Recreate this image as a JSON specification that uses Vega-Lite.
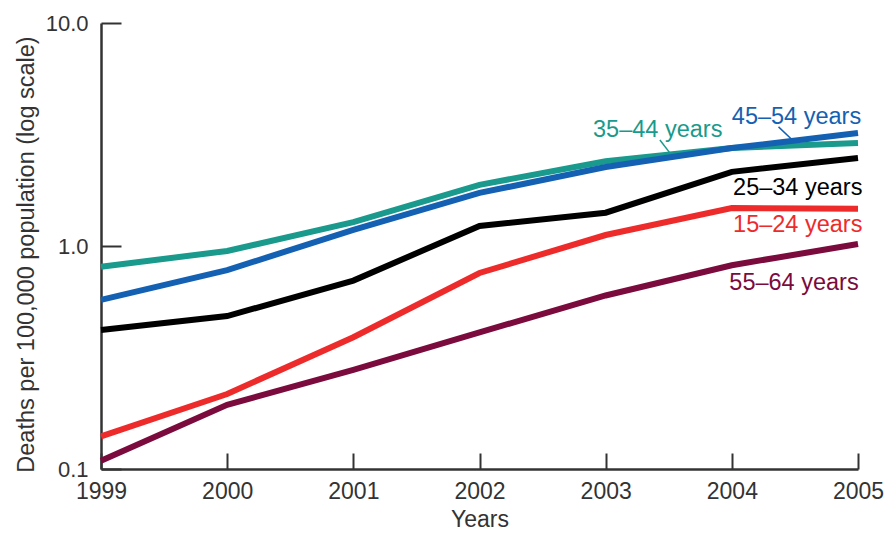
{
  "$schema": "https://vega.github.io/schema/vega-lite/v6.json",
  "width": 757,
  "height": 446,
  "autosize": {"type": "none"},
  "padding": {"left": 101, "top": 23, "right": 32, "bottom": 64},
  "background": "white",
  "config": {"view": {"stroke": null}, "font": "Liberation Sans"},
  "datasets": {
    "series": [
      {"age": "55–64 years", "year": 1999, "rate": 0.109},
      {"age": "55–64 years", "year": 2000, "rate": 0.194},
      {"age": "55–64 years", "year": 2001, "rate": 0.278},
      {"age": "55–64 years", "year": 2002, "rate": 0.41},
      {"age": "55–64 years", "year": 2003, "rate": 0.6},
      {"age": "55–64 years", "year": 2004, "rate": 0.82},
      {"age": "55–64 years", "year": 2005, "rate": 1.02},
      {"age": "15–24 years", "year": 1999, "rate": 0.14},
      {"age": "15–24 years", "year": 2000, "rate": 0.217},
      {"age": "15–24 years", "year": 2001, "rate": 0.39},
      {"age": "15–24 years", "year": 2002, "rate": 0.757},
      {"age": "15–24 years", "year": 2003, "rate": 1.12},
      {"age": "15–24 years", "year": 2004, "rate": 1.48},
      {"age": "15–24 years", "year": 2005, "rate": 1.47},
      {"age": "25–34 years", "year": 1999, "rate": 0.42},
      {"age": "25–34 years", "year": 2000, "rate": 0.485},
      {"age": "25–34 years", "year": 2001, "rate": 0.7},
      {"age": "25–34 years", "year": 2002, "rate": 1.23},
      {"age": "25–34 years", "year": 2003, "rate": 1.41},
      {"age": "25–34 years", "year": 2004, "rate": 2.15},
      {"age": "25–34 years", "year": 2005, "rate": 2.48},
      {"age": "35–44 years", "year": 1999, "rate": 0.807},
      {"age": "35–44 years", "year": 2000, "rate": 0.95},
      {"age": "35–44 years", "year": 2001, "rate": 1.28},
      {"age": "35–44 years", "year": 2002, "rate": 1.88},
      {"age": "35–44 years", "year": 2003, "rate": 2.4},
      {"age": "35–44 years", "year": 2004, "rate": 2.75},
      {"age": "35–44 years", "year": 2005, "rate": 2.9},
      {"age": "45–54 years", "year": 1999, "rate": 0.573},
      {"age": "45–54 years", "year": 2000, "rate": 0.78},
      {"age": "45–54 years", "year": 2001, "rate": 1.18},
      {"age": "45–54 years", "year": 2002, "rate": 1.73},
      {"age": "45–54 years", "year": 2003, "rate": 2.26},
      {"age": "45–54 years", "year": 2004, "rate": 2.75},
      {"age": "45–54 years", "year": 2005, "rate": 3.21}
    ],
    "labels": [
      {"age": "45–54 years", "year": 2004.0, "rate": 3.79},
      {"age": "35–44 years", "year": 2002.9, "rate": 3.31},
      {"age": "25–34 years", "year": 2004.01, "rate": 1.82},
      {"age": "15–24 years", "year": 2004.01, "rate": 1.24},
      {"age": "55–64 years", "year": 2003.98, "rate": 0.68}
    ],
    "leaders": [
      {"age": "35–44 years", "year": 2003.43, "rate": 2.99, "year2": 2003.51, "rate2": 2.61},
      {"age": "45–54 years", "year": 2004.37, "rate": 3.42, "year2": 2004.48, "rate2": 2.99}
    ]
  },
  "layer": [
    {
      "data": {"name": "series"},
      "mark": {"type": "line", "strokeWidth": 6, "strokeCap": "butt", "strokeJoin": "miter"},
      "encoding": {
        "x": {
          "field": "year", "type": "quantitative",
          "scale": {"domain": [1999, 2005], "nice": false, "zero": false},
          "axis": {
            "values": [1999, 2000, 2001, 2002, 2003, 2004, 2005],
            "format": "d", "title": "Years", "grid": false,
            "labelFontSize": 23, "labelColor": "#333", "labelFlush": false, "labelOverlap": false, "labelPadding": 27,
            "tickSize": -16, "tickColor": "#333", "tickWidth": 2,
            "domainColor": "#333", "domainWidth": 2.5,
            "titleFontSize": 23, "titleFontWeight": "normal", "titleColor": "#333", "titlePadding": 5
          }
        },
        "y": {
          "field": "rate", "type": "quantitative",
          "scale": {"type": "log", "domain": [0.1, 10], "nice": false},
          "axis": {
            "values": [0.1, 1, 10], "format": ".1f", "grid": false,
            "title": "Deaths per 100,000 population (log scale)",
            "labelFontSize": 22, "labelColor": "#333", "labelFlush": false, "labelOverlap": false, "labelPadding": 33,
            "tickSize": -20, "tickColor": "#333", "tickWidth": 2,
            "domainColor": "#333", "domainWidth": 2.5,
            "titleFontSize": 23.5, "titleFontWeight": "normal", "titleColor": "#333", "titlePadding": 7, "titleY": 231
          }
        },
        "color": {
          "field": "age", "type": "nominal",
          "scale": {
            "domain": ["15–24 years", "25–34 years", "35–44 years", "45–54 years", "55–64 years"],
            "range": ["#ee2b2b", "#000000", "#199a8c", "#1461b3", "#7b0b3c"]
          },
          "legend": null
        }
      }
    },
    {
      "data": {"name": "leaders"},
      "mark": {"type": "rule", "strokeWidth": 1.5},
      "encoding": {
        "x": {"field": "year", "type": "quantitative"},
        "x2": {"field": "year2"},
        "y": {"field": "rate", "type": "quantitative"},
        "y2": {"field": "rate2"},
        "color": {"field": "age", "type": "nominal", "legend": null}
      }
    },
    {
      "data": {"name": "labels"},
      "mark": {"type": "text", "align": "left", "baseline": "middle", "fontSize": 23.5},
      "encoding": {
        "x": {"field": "year", "type": "quantitative"},
        "y": {"field": "rate", "type": "quantitative"},
        "text": {"field": "age"},
        "color": {"field": "age", "type": "nominal", "legend": null}
      }
    }
  ]
}
